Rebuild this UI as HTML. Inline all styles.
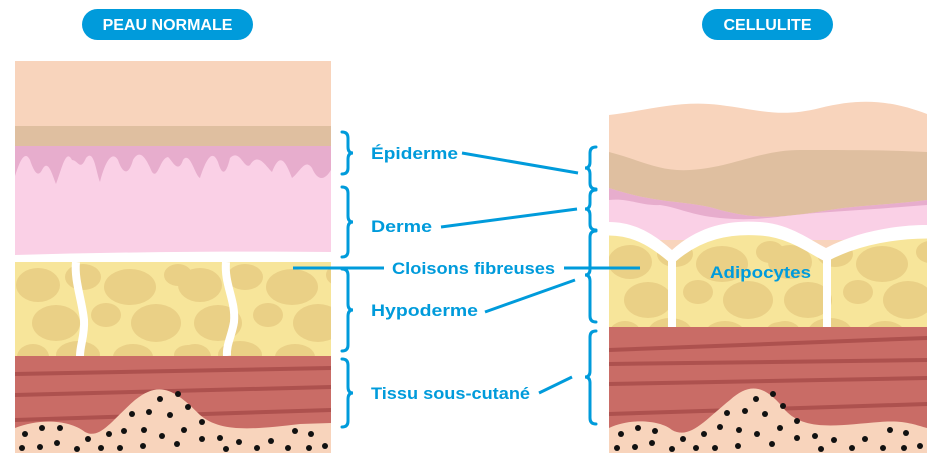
<!DOCTYPE html>
<html><head><meta charset="utf-8"><style>
body{margin:0;background:#fff}
svg{display:block}
text{font-family:"Liberation Sans","DejaVu Sans",sans-serif;font-weight:bold}
</style></head><body>
<svg width="944" height="462" viewBox="0 0 944 462" xmlns="http://www.w3.org/2000/svg">
<defs>
<clipPath id="cl"><rect x="15" y="61" width="316" height="392"/></clipPath>
<clipPath id="cr"><rect x="609" y="90" width="318" height="363"/></clipPath>
<clipPath id="fatr"><path d="M609 232 C640 232 660 250 672 260 C700 235 730 230 760 232 C790 234 810 250 826 258 C860 240 900 235 927 235 V327 H609 Z"/></clipPath>
<g id="cells">
<ellipse cx="0" cy="0" rx="22" ry="17"/><ellipse cx="45" cy="-8" rx="18" ry="13"/><ellipse cx="92" cy="2" rx="26" ry="18"/>
<ellipse cx="18" cy="38" rx="24" ry="18"/><ellipse cx="68" cy="30" rx="15" ry="12"/><ellipse cx="118" cy="38" rx="25" ry="19"/>
<ellipse cx="-5" cy="72" rx="16" ry="13"/><ellipse cx="40" cy="70" rx="22" ry="14"/><ellipse cx="95" cy="72" rx="20" ry="13"/>
<ellipse cx="140" cy="-10" rx="14" ry="11"/><ellipse cx="150" cy="70" rx="14" ry="10"/>
</g>
</defs>
<!-- LEFT -->
<g clip-path="url(#cl)">
<rect x="15" y="61" width="316" height="392" fill="#f8d4bc"/>
<rect x="15" y="126" width="316" height="20" fill="#dfbfa0"/>
<rect x="15" y="146" width="316" height="112" fill="#fad0e6"/>
<path d="M15 146 H331 V170 C325 180 318 182 312 168 C305 158 300 172 292 178 C285 160 280 152 272 172 C265 165 258 152 250 165 C244 170 240 148 230 158 C226 175 222 176 218 162 C212 148 206 160 200 178 C195 176 190 150 183 160 C178 175 172 160 168 157 C160 158 158 180 152 172 C146 158 140 148 133 160 C128 178 122 172 118 160 C112 150 105 162 100 182 C96 172 94 148 86 158 C80 172 78 160 72 160 C66 148 62 168 56 184 C52 174 48 158 42 170 C38 178 34 172 30 160 C25 150 20 160 15 176 Z" fill="#e7adcd"/>
<path d="M15 255 C120 252 230 251 331 252 V262 H15 Z" fill="#fff"/>
<rect x="15" y="262" width="316" height="94" fill="#f7e59a"/>
<g fill="#ead086"><use href="#cells" transform="translate(38,285)"/><use href="#cells" transform="translate(200,285)"/></g>
<path d="M76 262 C74 280 82 300 84 320 C85 335 80 345 80 356" stroke="#fff" stroke-width="8" fill="none"/>
<path d="M226 262 C224 285 236 300 234 322 C232 335 226 345 227 356" stroke="#fff" stroke-width="8" fill="none"/>
<rect x="15" y="356" width="316" height="97" fill="#c96c66"/>
<g fill="#ad514e"><path d="M15 372 L331 366 L331 370 L15 376Z"/><path d="M15 393 L331 385 L331 389 L15 397Z"/><path d="M15 418 L331 408 L331 412 L15 422Z"/></g>
<path d="M15 428 C40 418 70 420 85 432 C100 440 112 420 135 400 C160 380 175 390 200 415 C220 432 250 430 300 424 L331 423 V453 H15 Z" fill="#f8d4bc"/>
<g fill="#111"><circle cx="42" cy="428" r="3"/><circle cx="60" cy="428" r="3"/><circle cx="25" cy="434" r="3"/><circle cx="88" cy="439" r="3"/><circle cx="109" cy="434" r="3"/><circle cx="124" cy="431" r="3"/><circle cx="132" cy="414" r="3"/><circle cx="149" cy="412" r="3"/><circle cx="160" cy="399" r="3"/><circle cx="178" cy="394" r="3"/><circle cx="188" cy="407" r="3"/><circle cx="170" cy="415" r="3"/><circle cx="144" cy="430" r="3"/><circle cx="162" cy="436" r="3"/><circle cx="184" cy="430" r="3"/><circle cx="202" cy="422" r="3"/><circle cx="202" cy="439" r="3"/><circle cx="220" cy="438" r="3"/><circle cx="239" cy="442" r="3"/><circle cx="271" cy="441" r="3"/><circle cx="295" cy="431" r="3"/><circle cx="311" cy="434" r="3"/><circle cx="22" cy="448" r="3"/><circle cx="40" cy="447" r="3"/><circle cx="57" cy="443" r="3"/><circle cx="77" cy="449" r="3"/><circle cx="101" cy="448" r="3"/><circle cx="120" cy="448" r="3"/><circle cx="143" cy="446" r="3"/><circle cx="177" cy="444" r="3"/><circle cx="226" cy="449" r="3"/><circle cx="257" cy="448" r="3"/><circle cx="288" cy="448" r="3"/><circle cx="309" cy="448" r="3"/><circle cx="325" cy="446" r="3"/></g>
</g>
<!-- RIGHT -->
<g clip-path="url(#cr)">
<path d="M609 115 C650 110 680 100 720 105 C760 110 780 118 820 108 C860 98 890 100 927 114 V453 H609 Z" fill="#f8d4bc"/>
<path d="M609 152 C640 160 660 172 690 170 C730 168 760 150 800 150 C850 150 890 150 927 152 V200 C890 205 860 205 830 210 C780 218 760 220 720 210 C690 200 660 205 609 188 Z" fill="#dfbfa0"/>
<path d="M609 188 C660 205 690 200 720 210 C760 220 780 218 830 210 C860 205 890 205 927 200 V240 H609 Z" fill="#e7adcd"/>
<path d="M609 200 C630 198 640 206 660 205 C680 208 690 215 720 218 C760 222 780 215 830 212 C860 210 890 208 927 205 V240 H609Z" fill="#fad0e6"/>
<path d="M609 222 C640 222 660 240 672 250 C700 225 730 220 760 222 C790 224 810 240 826 248 C860 230 900 225 927 225 V327 H609 Z" fill="#fff"/>
<path d="M609 232 C640 232 660 250 672 260 C700 235 730 230 760 232 C790 234 810 250 826 258 C860 240 900 235 927 235 V327 H609 Z" fill="#f7e59a"/>
<g fill="#ead086" clip-path="url(#fatr)"><use href="#cells" transform="translate(630,262)"/><use href="#cells" transform="translate(790,262)"/></g>
<path d="M609 232 C640 232 660 250 672 260 C700 235 730 230 760 232 C790 234 810 250 826 258 C860 240 900 235 927 235" stroke="#fff" stroke-width="7" fill="none"/>
<path d="M672 258 V327 M827 256 V327" stroke="#fff" stroke-width="8"/>
<rect x="609" y="327" width="318" height="126" fill="#c96c66"/>
<g fill="#ad514e"><path d="M609 348 L927 336 L927 340 L609 352Z"/><path d="M609 362 L927 358 L927 362 L609 366Z"/><path d="M609 382 L927 376 L927 380 L609 386Z"/><path d="M609 412 L927 402 L927 406 L609 416Z"/></g>
<path d="M609 428 C630 418 660 420 672 430 C690 440 705 420 730 400 C750 382 765 385 785 410 C805 432 840 425 880 422 C905 420 915 425 927 428 V453 H609 Z" fill="#f8d4bc"/>
<g fill="#111"><circle cx="621" cy="434" r="3"/><circle cx="638" cy="428" r="3"/><circle cx="655" cy="431" r="3"/><circle cx="683" cy="439" r="3"/><circle cx="704" cy="434" r="3"/><circle cx="720" cy="427" r="3"/><circle cx="727" cy="413" r="3"/><circle cx="745" cy="411" r="3"/><circle cx="756" cy="399" r="3"/><circle cx="773" cy="394" r="3"/><circle cx="783" cy="406" r="3"/><circle cx="765" cy="414" r="3"/><circle cx="739" cy="430" r="3"/><circle cx="757" cy="434" r="3"/><circle cx="780" cy="428" r="3"/><circle cx="797" cy="421" r="3"/><circle cx="797" cy="438" r="3"/><circle cx="815" cy="436" r="3"/><circle cx="834" cy="440" r="3"/><circle cx="865" cy="439" r="3"/><circle cx="890" cy="430" r="3"/><circle cx="906" cy="433" r="3"/><circle cx="617" cy="448" r="3"/><circle cx="635" cy="447" r="3"/><circle cx="652" cy="443" r="3"/><circle cx="672" cy="449" r="3"/><circle cx="696" cy="448" r="3"/><circle cx="715" cy="448" r="3"/><circle cx="738" cy="446" r="3"/><circle cx="772" cy="444" r="3"/><circle cx="821" cy="449" r="3"/><circle cx="852" cy="448" r="3"/><circle cx="883" cy="448" r="3"/><circle cx="904" cy="448" r="3"/><circle cx="920" cy="446" r="3"/></g>
</g>
<!-- Pills -->
<rect x="82" y="9" width="171" height="31" rx="15.5" fill="#009bdb"/>
<text x="167.5" y="30" font-size="16" fill="#fff" text-anchor="middle">PEAU NORMALE</text>
<rect x="702" y="9" width="131" height="31" rx="15.5" fill="#009bdb"/>
<text x="767.5" y="30" font-size="16" fill="#fff" text-anchor="middle">CELLULITE</text>
<!-- Brackets -->
<g stroke="#009bdb" stroke-width="3" fill="none" stroke-linecap="round">
<path d="M342 132 Q348 132 348 138 V147 Q348 153 353 153 Q348 153 348 159 V168 Q348 174 342 174"/>
<path d="M342 187 Q348 187 348 193 V216 Q348 222 353 222 Q348 222 348 228 V251 Q348 257 342 257"/>
<path d="M342 269 Q348 269 348 275 V304 Q348 310 353 310 Q348 310 348 316 V345 Q348 351 342 351"/>
<path d="M342 359 Q348 359 348 365 V387 Q348 393 353 393 Q348 393 348 399 V421 Q348 427 342 427"/>
<path d="M596 147 Q590 147 590 153 V162 Q590 168 585 168 Q590 168 590 174 V183 Q590 189 596 189"/>
<path d="M596 190 Q590 190 590 196 V203 Q590 209 585 209 Q590 209 590 215 V224 Q590 230 596 230"/>
<path d="M596 231 Q590 231 590 237 V269 Q590 275 585 275 Q590 275 590 281 V316 Q590 322 596 322"/>
<path d="M596 331 Q590 331 590 337 V371 Q590 377 585 377 Q590 377 590 383 V418 Q590 424 596 424"/>
</g>
<!-- connectors -->
<g stroke="#009bdb" stroke-width="3">
<line x1="462" y1="153" x2="578" y2="173"/>
<line x1="441" y1="227" x2="577" y2="209"/>
<line x1="293" y1="268" x2="384" y2="268"/>
<line x1="564" y1="268" x2="640" y2="268"/>
<line x1="485" y1="312" x2="575" y2="280"/>
<line x1="539" y1="393" x2="572" y2="377"/>
</g>
<g fill="#009bdb" font-size="17">
<text x="371" y="159" textLength="87" lengthAdjust="spacingAndGlyphs">Épiderme</text>
<text x="371" y="232" textLength="61" lengthAdjust="spacingAndGlyphs">Derme</text>
<text x="392" y="274" textLength="163" lengthAdjust="spacingAndGlyphs">Cloisons fibreuses</text>
<text x="371" y="316" textLength="107" lengthAdjust="spacingAndGlyphs">Hypoderme</text>
<text x="371" y="399" textLength="159" lengthAdjust="spacingAndGlyphs">Tissu sous-cutané</text>
<text x="710" y="278" textLength="101" lengthAdjust="spacingAndGlyphs">Adipocytes</text>
</g>
</svg>
</body></html>
